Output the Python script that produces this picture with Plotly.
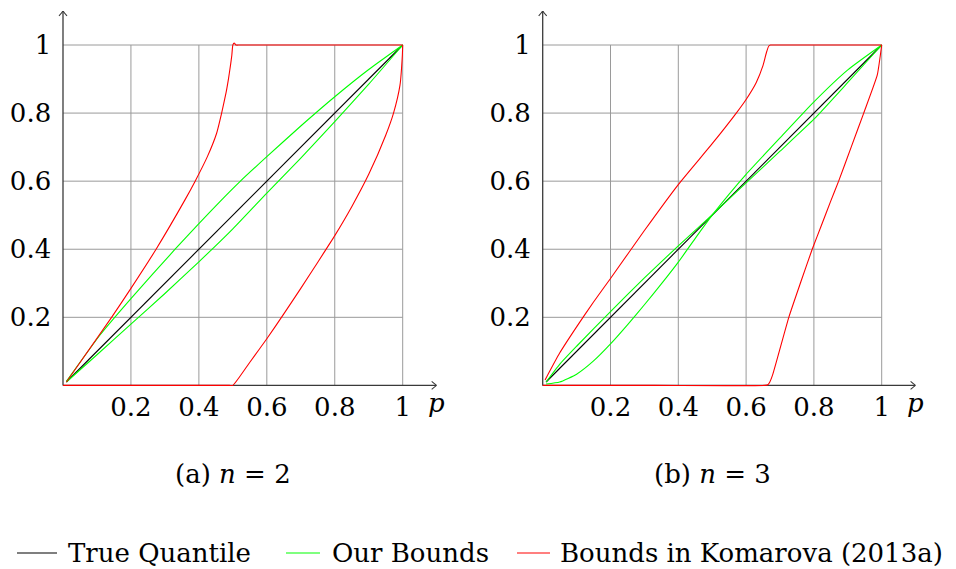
import plotly.graph_objects as go

# ---------------- data ----------------
tick_vals = [0.2, 0.4, 0.6, 0.8, 1.0]
tick_text = ["0.2", "0.4", "0.6", "0.8", "1"]
grid_vals = [0.2, 0.4, 0.6, 0.8, 1.0]

# n = 2
p_true_2 = [0.01, 1.0]
q_true_2 = [0.01, 1.0]

p_our_hi_2 = [0.01, 0.109, 0.2, 0.33, 0.4, 0.462, 0.52, 0.6, 0.7, 0.8, 0.9, 1.0]
q_our_hi_2 = [0.012, 0.148, 0.255, 0.40, 0.475, 0.54, 0.598, 0.672, 0.762, 0.848, 0.928, 1.0]

p_our_lo_2 = [0.01, 0.1, 0.2, 0.3, 0.4, 0.5, 0.6, 0.7, 0.8, 0.9, 1.0]
q_our_lo_2 = [0.01, 0.09, 0.18, 0.27, 0.363, 0.46, 0.565, 0.668, 0.775, 0.885, 1.0]

p_kom_hi_2 = [0.01, 0.143, 0.2, 0.274, 0.359, 0.389, 0.425, 0.452, 0.467, 0.48, 0.487,
              0.493, 0.497, 0.5, 0.504, 0.509, 0.52, 0.75, 1.0]
q_kom_hi_2 = [0.01, 0.2, 0.285, 0.4, 0.545, 0.6, 0.672, 0.74, 0.8, 0.86, 0.9,
              0.94, 0.97, 1.0, 1.006, 1.0, 1.0, 1.0, 1.0]

p_kom_lo_2 = [0.0, 0.25, 0.49, 0.5, 0.55, 0.6, 0.65, 0.7, 0.75, 0.8, 0.85, 0.9, 0.95, 0.973,
              0.992, 0.999, 1.0]
q_kom_lo_2 = [0.0, 0.0, 0.0, 0.0, 0.068, 0.137, 0.21, 0.285, 0.362, 0.44, 0.525, 0.62, 0.735,
              0.8, 0.882, 0.97, 1.0]

# n = 3
p_true_3 = [0.01, 1.0]
q_true_3 = [0.01, 1.0]

p_our_a_3 = [0.01, 0.05, 0.1, 0.2, 0.3, 0.4, 0.49, 0.6, 0.7, 0.8, 0.9, 1.0]
q_our_a_3 = [0.01, 0.062, 0.115, 0.217, 0.316, 0.41, 0.492, 0.595, 0.688, 0.782, 0.89, 1.0]

p_our_b_3 = [0.01, 0.05, 0.1, 0.15, 0.2, 0.25, 0.3, 0.35, 0.4, 0.45, 0.5, 0.55, 0.6,
             0.7, 0.8, 0.9, 1.0]
q_our_b_3 = [0.004, 0.01, 0.033, 0.072, 0.122, 0.178, 0.237, 0.298, 0.362, 0.432, 0.5,
             0.562, 0.62, 0.727, 0.833, 0.927, 1.0]

p_kom_hi_3 = [0.007, 0.05, 0.1, 0.15, 0.2, 0.3, 0.4, 0.5, 0.571, 0.6, 0.63, 0.65, 0.66,
              0.667, 0.672, 0.68, 0.85, 1.0]
q_kom_hi_3 = [0.016, 0.095, 0.172, 0.245, 0.314, 0.455, 0.59, 0.71, 0.8, 0.84, 0.89, 0.94,
              0.978, 0.997, 1.0, 1.0, 1.0, 1.0]

p_kom_lo_3 = [0.0, 0.33, 0.655, 0.664, 0.67, 0.678, 0.726, 0.76, 0.795, 0.824, 0.849, 0.873,
              0.91, 0.947, 0.987, 0.996, 1.0]
q_kom_lo_3 = [0.0, 0.0, 0.0, 0.002, 0.01, 0.03, 0.2, 0.3, 0.4, 0.475, 0.54, 0.6,
              0.7, 0.8, 0.912, 0.97, 1.0]

legend_names = ["True Quantile", "Our Bounds", "Bounds in Komarova (2013a)"]
captions = ["(a) <i>n</i> = 2", "(b) <i>n</i> = 3"]

# ---------------- style ----------------
FONT = "DejaVu Serif"
FS = 26
BLACK = "#000000"
GREEN = "#00ff00"
RED = "#ff0000"
GRID = "#9a9a9a"
AXIS = "#3a3a3a"
W, H = 956, 569
RANGE = [-0.02, 1.1]

fig = go.Figure()


def add_panel(xa, ya, curves):
    for px, qy, col in curves:
        fig.add_trace(go.Scatter(x=px, y=qy, mode="lines", xaxis=xa, yaxis=ya,
                                 line=dict(color=col, width=1.1, shape="spline",
                                           smoothing=0.5),
                                 showlegend=False, hoverinfo="skip"))


add_panel("x", "y", [
    (p_true_2, q_true_2, BLACK),
    (p_our_hi_2, q_our_hi_2, GREEN),
    (p_our_lo_2, q_our_lo_2, GREEN),
    (p_kom_hi_2, q_kom_hi_2, RED),
    (p_kom_lo_2, q_kom_lo_2, RED),
])
add_panel("x2", "y2", [
    (p_true_3, q_true_3, BLACK),
    (p_our_a_3, q_our_a_3, GREEN),
    (p_our_b_3, q_our_b_3, GREEN),
    (p_kom_hi_3, q_kom_hi_3, RED),
    (p_kom_lo_3, q_kom_lo_3, RED),
])

shapes = []
annotations = []
for xr, yr, cap in [("x", "y", captions[0]), ("x2", "y2", captions[1])]:
    # grid limited to the unit square
    for v in grid_vals:
        shapes.append(dict(type="line", xref=xr, yref=yr, x0=v, x1=v, y0=0, y1=1,
                           line=dict(color=GRID, width=1), layer="below"))
        shapes.append(dict(type="line", xref=xr, yref=yr, x0=0, x1=1, y0=v, y1=v,
                           line=dict(color=GRID, width=1), layer="below"))
    # axes with arrow tips
    shapes.append(dict(type="line", xref=xr, yref=yr, x0=0, x1=1.1, y0=0, y1=0,
                       line=dict(color=AXIS, width=1.3), layer="below"))
    shapes.append(dict(type="line", xref=xr, yref=yr, x0=0, x1=0, y0=0, y1=1.1,
                       line=dict(color=AXIS, width=1.3), layer="below"))
    shapes.append(dict(type="path", xref=xr, yref=yr, xsizemode="pixel", ysizemode="pixel",
                       xanchor=1.1, yanchor=0, path="M -5,4 Q -1.5,1 0,0 Q -1.5,-1 -5,-4",
                       line=dict(color=AXIS, width=1.1)))
    shapes.append(dict(type="path", xref=xr, yref=yr, xsizemode="pixel", ysizemode="pixel",
                       xanchor=0, yanchor=1.1, path="M -4,-5 Q -1,-1.5 0,0 Q 1,-1.5 4,-5",
                       line=dict(color=AXIS, width=1.1)))
    annotations.append(dict(xref=xr, yref=yr, x=1.1, y=0, yshift=-18, xshift=0,
                            text="<i>p</i>", showarrow=False,
                            font=dict(family=FONT, size=FS, color=BLACK)))
    annotations.append(dict(xref=xr, yref="paper", x=0.5, y=1 - 474 / H,
                            text=cap, showarrow=False, xanchor="center", yanchor="middle",
                            font=dict(family=FONT, size=FS, color=BLACK)))

# legend row
legend_items = [
    (17, 57, 66, BLACK, legend_names[0]),
    (286, 320, 330, GREEN, legend_names[1]),
    (517, 550, 558, RED, legend_names[2]),
]
ly = 1 - 553 / H
for x0, x1, tx, col, name in legend_items:
    shapes.append(dict(type="line", xref="paper", yref="paper", x0=x0 / W, x1=x1 / W,
                       y0=ly, y1=ly, line=dict(color=col, width=1.1)))
    annotations.append(dict(xref="paper", yref="paper", x=tx / W, y=ly, text=name,
                            showarrow=False, xanchor="left", yanchor="middle",
                            font=dict(family=FONT, size=FS, color=BLACK)))

# pixel geometry of the two panels
y_px0, y_px_per = 385.4, 340.4
ydom = [(H - (y_px0 - RANGE[0] * y_px_per)) / H, (H - (y_px0 - RANGE[1] * y_px_per)) / H]


def xdom(px0, per):
    return [(px0 + RANGE[0] * per) / W, (px0 + RANGE[1] * per) / W]


axis_common = dict(range=RANGE, showgrid=False, zeroline=False, showline=False,
                   tickvals=tick_vals, ticktext=tick_text, ticks="",
                   tickfont=dict(family=FONT, size=FS, color=BLACK), fixedrange=True)

fig.update_layout(
    width=W, height=H, autosize=False,
    margin=dict(l=0, r=0, t=0, b=0),
    paper_bgcolor="white", plot_bgcolor="white",
    xaxis=dict(domain=xdom(63.0, 339.7), anchor="y", ticklabelstandoff=-3, **axis_common),
    yaxis=dict(domain=ydom, anchor="x", ticklabelstandoff=4, **axis_common),
    xaxis2=dict(domain=xdom(542.7, 339.0), anchor="y2", ticklabelstandoff=-3, **axis_common),
    yaxis2=dict(domain=ydom, anchor="x2", ticklabelstandoff=4, **axis_common),
    shapes=shapes, annotations=annotations, showlegend=False,
)

fig.write_html("out.html")
